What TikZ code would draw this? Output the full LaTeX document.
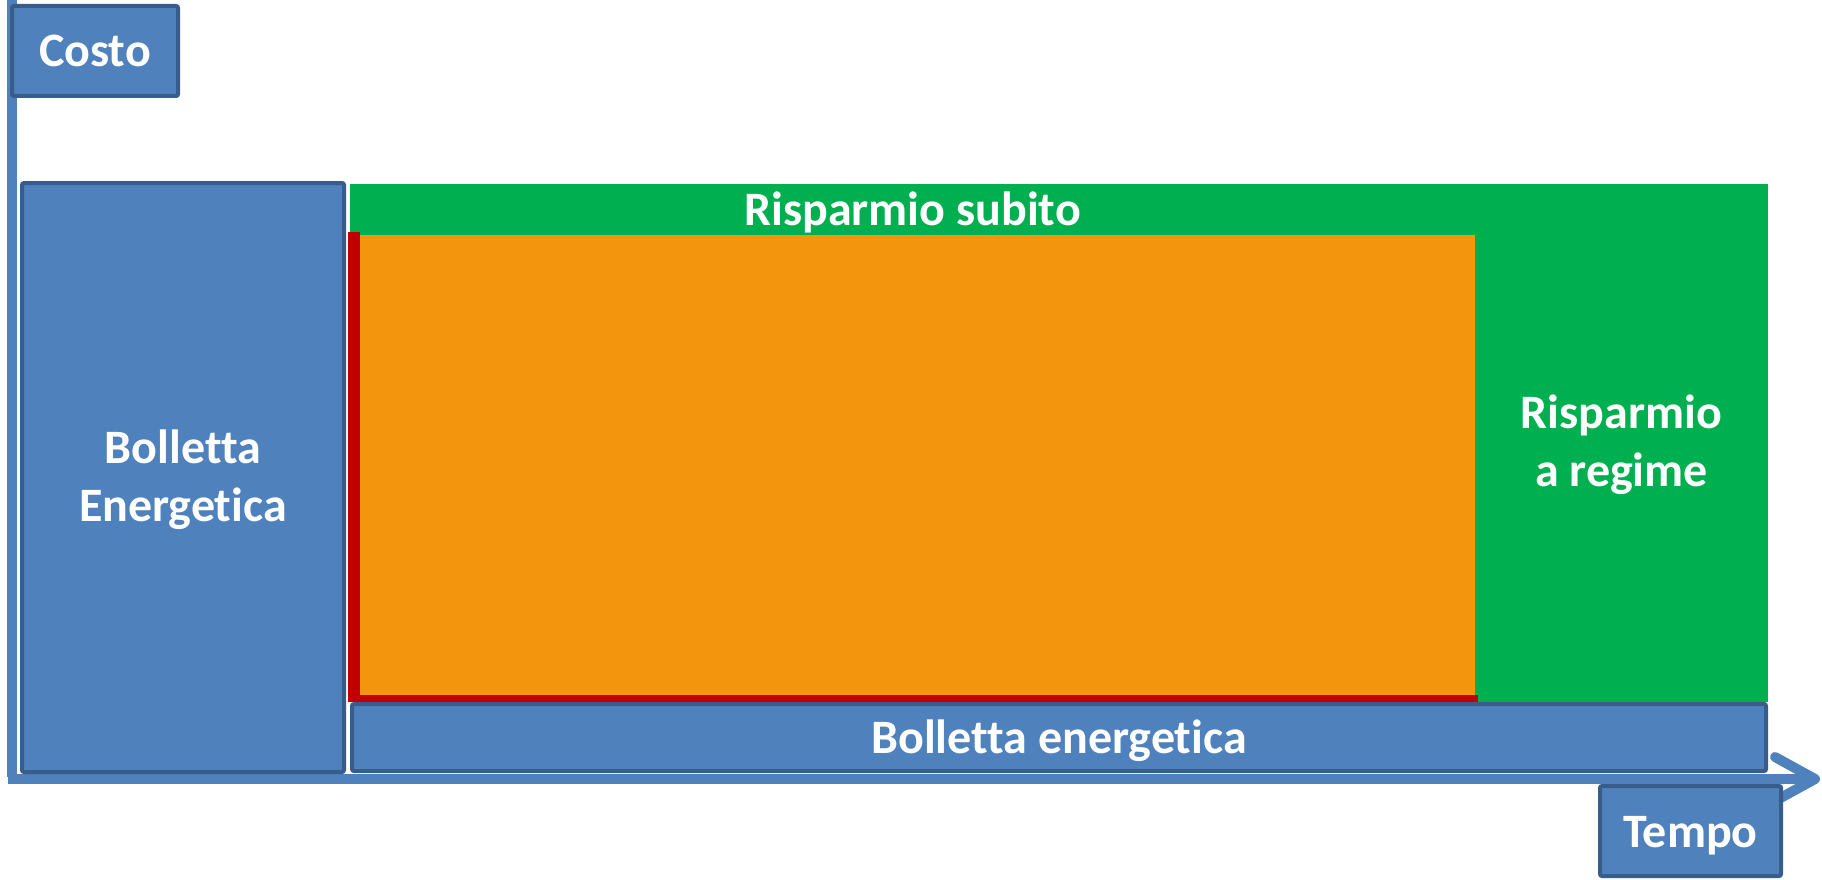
\documentclass[tikz,border=0pt]{standalone}
\usepackage{fontspec}
\setmainfont{Carlito}[Ligatures={NoCommon}]
\definecolor{boxblue}{HTML}{4F81BD}
\definecolor{boxedge}{HTML}{385D8A}
\definecolor{savegreen}{HTML}{00B050}
\definecolor{loanorange}{HTML}{F4960D}
\definecolor{lossred}{HTML}{C00000}
\newcommand{\onestrut}{\rule[-8pt]{0pt}{48pt}}
\newcommand{\topstrut}{\rule{0pt}{38pt}}
\newcommand{\botstrut}{\rule[-8pt]{0pt}{8pt}}
\tikzset{
  bluebox/.style={draw=boxedge, line width=4pt, fill=boxblue, rounded corners=2pt, inner sep=0pt,
    text=white, font=\fontsize{48}{58}\selectfont\bfseries, align=center},
  greenbox/.style={fill=savegreen, draw=none, inner sep=0pt, text=white,
    font=\fontsize{48}{58}\selectfont\bfseries, align=center},
  flatbox/.style={draw=none, inner sep=0pt},
  axisline/.style={draw=boxblue, line width=10pt},
  axishead/.style={draw=boxblue, line width=10pt, line cap=round, line join=round},
}
\begin{document}
\begin{tikzpicture}[x=1pt,y=-1pt]
\useasboundingbox (0,0) rectangle (1822,880);
% axes
\coordinate (ytop) at (12,0);
\coordinate (ybot) at (12,777);
\coordinate (xstart) at (8,779);
\coordinate (xend) at (1815,779);
\coordinate (headup) at (1775,757);
\coordinate (headdown) at (1775,801);
\draw[axisline] (ytop) -- (ybot);
\draw[axisline] (xstart) -- (xend);
\draw[axishead] (headup) -- (xend) -- (headdown);
% boxes
\node[bluebox, minimum width=322pt, minimum height=589pt] (bolL) at (183,477.5) {\topstrut Bolletta\\Energetica\botstrut};
\node[greenbox, minimum width=1125pt, minimum height=51pt] (subito) at (912.5,209.5) {\onestrut Risparmio subito};
\node[greenbox, minimum width=293pt, minimum height=518pt] (regime) at (1621.5,443) {\topstrut Risparmio\\a regime\botstrut};
\node[flatbox, fill=loanorange, minimum width=1115pt, minimum height=460pt] (orange) at (917.5,465) {};
\node[flatbox, fill=lossred, minimum width=12pt, minimum height=470pt] (redv) at (354,467) {};
\node[flatbox, fill=lossred, minimum width=1118pt, minimum height=12pt] (redh) at (919,701) {};
\node[bluebox, minimum width=1414pt, minimum height=67pt] (bolB) at (1059,737.5) {\onestrut Bolletta energetica};
% axis labels
\node[bluebox, minimum width=166pt, minimum height=90pt] (costo) at (95,51) {\onestrut Costo};
\node[bluebox, minimum width=181pt, minimum height=90pt] (tempo) at (1690.5,831) {\onestrut Tempo};
\end{tikzpicture}
\end{document}
